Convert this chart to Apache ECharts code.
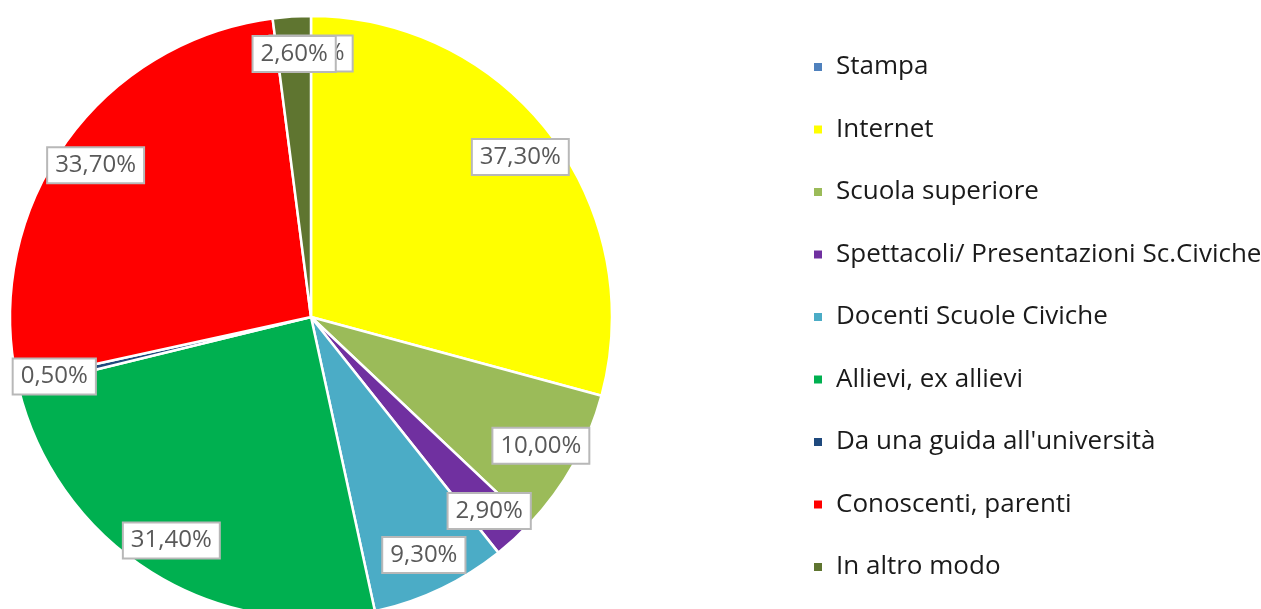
<!DOCTYPE html>
<html>
<head>
<meta charset="utf-8">
<script src="https://cdn.jsdelivr.net/npm/echarts@6/dist/echarts.min.js"></script>
<style>
  html, body { margin: 0; padding: 0; background: #fff; }
  #chart { width: 1261px; height: 609px; }
</style>
</head>
<body>
<div id="chart"></div>
<script>
// categories and values (percentages as printed on the slices)
const categories = [
  "Stampa",
  "Internet",
  "Scuola superiore",
  "Spettacoli/ Presentazioni Sc.Civiche",
  "Docenti Scuole Civiche",
  "Allievi, ex allievi",
  "Da una guida all'università",
  "Conoscenti, parenti",
  "In altro modo",
];
const values = [0, 37.3, 10.0, 2.9, 9.3, 31.4, 0.5, 33.7, 2.6];
const colors = [
  "#4f81bd", "#ffff00", "#9bbb59", "#7030a0", "#4bacc6",
  "#00b050", "#1f497d", "#ff0000", "#5f7530",
];

const pieData = categories.map((name, i) => ({ name: name, value: values[i] }));
// the label ring needs a non-zero sector so the "Stampa" label is still placed
const labelData = categories.map((name, i) => ({ name: name, value: values[i] || 0.01 }));
const fmt = (v) => v.toFixed(2).replace(".", ",") + "%";
const FONT = "'Open Sans', Lato, sans-serif";
const CENTER = [311, 317];

const chart = echarts.init(document.getElementById("chart"), null, { renderer: "canvas" });
chart.setOption({
  animation: false,
  color: colors,
  legend: {
    orient: "vertical",
    left: 807,
    top: 49,
    itemWidth: 10,
    itemHeight: 10,
    itemGap: 36.5,
    icon: "rect",
    selectedMode: false,
    data: categories,
    textStyle: {
      fontFamily: FONT,
      fontSize: 26,
      color: "#1a1a1a",
      lineHeight: 26,
      padding: [0, 0, 0, 8],
    },
  },
  series: [
    {
      name: "pie",
      type: "pie",
      center: CENTER,
      radius: [0, 301],
      startAngle: 90,
      clockwise: true,
      silent: true,
      label: { show: false },
      labelLine: { show: false },
      itemStyle: { borderColor: "#fff", borderWidth: 2.5 },
      data: pieData,
    },
    {
      // transparent ring only used to place the value labels near the rim
      name: "labels",
      type: "pie",
      center: CENTER,
      radius: [220, 301],
      startAngle: 90,
      clockwise: true,
      silent: true,
      legendHoverLink: false,
      avoidLabelOverlap: false,
      labelLayout: { hideOverlap: false },
      itemStyle: { color: "transparent" },
      labelLine: { show: false },
      label: {
        show: true,
        position: "inside",
        formatter: (p) => fmt(values[p.dataIndex]),
        fontFamily: FONT,
        fontSize: 24,
        color: "#595959",
        backgroundColor: "#fff",
        borderColor: "#b8b8b8",
        borderWidth: 2,
        padding: [6, 7, 4, 7],
      },
      data: labelData,
    },
  ],
});
</script>
</body>
</html>
